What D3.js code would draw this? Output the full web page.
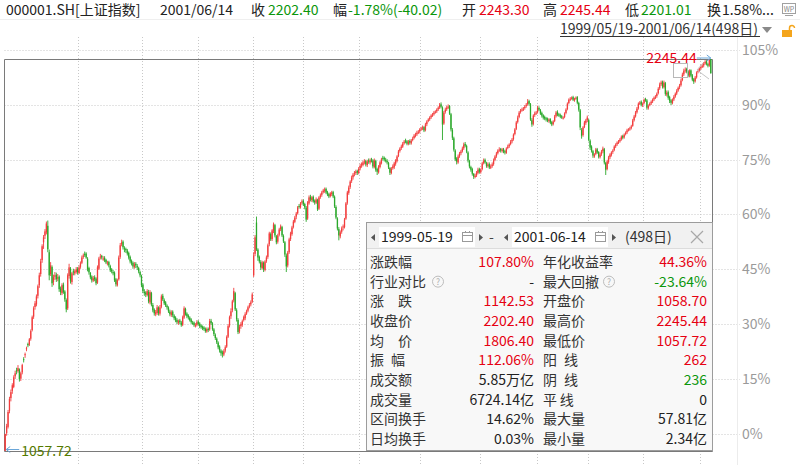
<!DOCTYPE html>
<html>
<head>
<meta charset="utf-8">
<script src="https://cdn.jsdelivr.net/npm/d3@7"></script>
<style>
body { margin: 0; background: #fff; }
text { font-family: "Noto Sans CJK SC", "Noto Sans", sans-serif; }
</style>
</head>
<body>
<div id="chart"></div>
<script>
// daily candles 1999/05/19 - 2001/06/14 (498 days)
const opens = [
1058.70,1112,1131,1180,1218,1240,1252,1284,1302,1300,
1305,1277,1296,1336,1348,1366,1382,1380,1398,1424,
1465,1494,1502,1528,1560,1594,1636,1690,1710,1720,
1740,1660,1594,1615,1570,1586,1592,1580,1586,1550,
1536,1562,1541,1515,1490,1588,1610,1570,1602,1596,
1600,1610,1597,1616,1628,1646,1655,1656,1640,1612,
1597,1586,1574,1584,1580,1568,1610,1646,1649,1640,
1643,1637,1626,1630,1618,1608,1600,1598,1578,1560,
1578,1646,1684,1692,1672,1670,1665,1658,1646,1634,
1628,1615,1625,1618,1612,1600,1588,1562,1540,1538,
1530,1540,1508,1536,1500,1486,1472,1476,1492,1474,
1495,1528,1515,1508,1498,1492,1480,1470,1480,1468,
1462,1455,1446,1453,1447,1440,1462,1488,1474,1468,
1462,1456,1446,1447,1438,1440,1450,1444,1438,1434,
1432,1428,1420,1428,1426,1452,1444,1426,1410,1398,
1386,1374,1362,1356,1350,1362,1374,1404,1438,1466,
1484,1514,1536,1484,1455,1420,1436,1440,1455,1460,
1474,1483,1495,1502,1510,1590,1655,1750,1668,1646,
1630,1612,1628,1606,1634,1646,1684,1715,1700,1724,
1742,1708,1692,1713,1730,1736,1709,1690,1650,1620,
1660,1700,1715,1737,1752,1768,1778,1800,1796,1810,
1816,1806,1795,1762,1808,1828,1818,1828,1816,1810,
1818,1792,1828,1834,1842,1846,1852,1842,1836,1830,
1836,1842,1828,1797,1762,1730,1708,1722,1735,1736,
1762,1810,1840,1858,1876,1887,1898,1900,1906,1900,
1914,1924,1924,1934,1936,1924,1938,1932,1941,1938,
1918,1936,1912,1902,1918,1930,1946,1946,1940,1937,
1930,1915,1900,1915,1917,1928,1936,1952,1967,1976,
1980,1990,1998,1996,1988,1997,1990,2000,2006,2015,
2017,2024,2026,2033,2036,2039,2030,2048,2058,2063,
2069,2075,2078,2084,2087,2093,2099,2108,2098,2050,
2085,2093,2100,2103,2078,2030,2005,1968,1944,1932,
1951,1960,1966,1975,1988,1982,1962,1936,1918,1912,
1897,1888,1893,1900,1912,1903,1912,1930,1940,1930,
1921,1927,1916,1921,1927,1940,1951,1960,1970,1973,
1967,1972,1966,1961,1976,1981,1988,1996,2003,2018,
2034,2055,2070,2085,2091,2094,2097,2103,2109,2118,
2108,2060,2049,2076,2082,2085,2097,2090,2082,2075,
2070,2066,2064,2057,2063,2054,2048,2058,2072,2085,
2078,2075,2072,2066,2070,2082,2094,2112,2124,2127,
2130,2120,2126,2130,2112,2090,2030,2015,2040,2052,
2060,2060,1998,1980,1966,1950,1958,1972,1964,1948,
1958,1966,1972,1930,1912,1934,1948,1955,1964,1970,
1981,1987,1993,1996,2002,2012,2008,2018,2023,2030,
2033,2036,2043,2060,2072,2084,2096,2111,2116,2105,
2112,2124,2120,2096,2106,2111,2117,2123,2130,2133,
2142,2157,2169,2176,2160,2172,2138,2145,2130,2120,
2112,2123,2132,2141,2150,2160,2166,2182,2199,2211,
2215,2208,2196,2211,2196,2184,2178,2190,2206,2211,
2217,2223,2226,2232,2239,2230,2226,2243.30
];
const highs = [
1110,1140,1182,1222,1244,1263,1287,1301,1310,1318,
1308,1298,1322,1342,1356,1374,1386,1400,1426,1468,
1496,1512,1532,1562,1598,1640,1684,1712,1730,1753,
1756,1668,1630,1620,1592,1600,1598,1594,1590,1556,
1566,1568,1545,1520,1596,1625,1615,1600,1610,1608,
1615,1615,1620,1632,1650,1656,1662,1660,1645,1616,
1600,1590,1588,1590,1584,1620,1646,1655,1652,1648,
1648,1640,1634,1634,1622,1612,1606,1602,1582,1580,
1650,1688,1698,1696,1678,1674,1670,1662,1650,1638,
1632,1630,1630,1624,1616,1604,1592,1566,1548,1542,
1548,1546,1545,1540,1506,1490,1485,1500,1496,1500,
1532,1534,1520,1512,1502,1496,1486,1484,1484,1472,
1466,1460,1456,1458,1452,1468,1496,1492,1478,1472,
1466,1460,1452,1450,1445,1454,1454,1448,1442,1438,
1436,1432,1432,1432,1458,1458,1448,1430,1414,1402,
1390,1378,1366,1362,1366,1378,1408,1442,1468,1490,
1516,1552,1540,1490,1460,1440,1448,1456,1468,1478,
1486,1498,1506,1514,1538,1660,1712,1768,1672,1650,
1636,1634,1632,1636,1650,1686,1722,1720,1730,1750,
1746,1712,1716,1734,1744,1740,1714,1694,1656,1664,
1704,1722,1740,1758,1770,1782,1800,1806,1812,1820,
1820,1810,1800,1815,1832,1834,1830,1832,1820,1826,
1822,1830,1838,1846,1852,1856,1856,1846,1840,1842,
1846,1846,1832,1802,1766,1736,1726,1738,1744,1764,
1812,1846,1862,1878,1892,1900,1906,1910,1910,1918,
1928,1932,1938,1942,1940,1940,1944,1944,1946,1942,
1944,1940,1916,1924,1936,1946,1952,1950,1946,1942,
1934,1918,1918,1926,1934,1942,1954,1970,1978,1986,
1994,2000,2004,2000,2000,2002,2003,2010,2018,2022,
2028,2030,2036,2040,2044,2042,2052,2060,2066,2072,
2078,2082,2088,2090,2096,2102,2112,2114,2102,2088,
2098,2104,2108,2106,2082,2036,2010,1972,1948,1956,
1964,1970,1980,1992,1994,1986,1966,1940,1922,1916,
1900,1898,1906,1916,1916,1914,1934,1944,1944,1934,
1932,1932,1926,1932,1944,1954,1964,1972,1978,1976,
1976,1976,1970,1978,1986,1990,2000,2006,2020,2036,
2058,2074,2088,2094,2098,2100,2106,2112,2124,2122,
2112,2066,2078,2086,2088,2104,2102,2094,2086,2078,
2074,2070,2068,2066,2066,2058,2060,2076,2088,2090,
2082,2080,2076,2072,2084,2096,2114,2126,2130,2132,
2134,2128,2132,2133,2116,2094,2036,2042,2058,2064,
2074,2064,2002,1984,1970,1960,1976,1976,1966,1962,
1970,1980,1976,1934,1940,1952,1960,1966,1972,1984,
1990,1996,2000,2006,2014,2016,2020,2026,2034,2036,
2040,2046,2064,2076,2088,2100,2114,2118,2120,2114,
2126,2128,2124,2108,2114,2120,2126,2132,2136,2144,
2160,2174,2180,2180,2180,2176,2150,2150,2134,2124,
2126,2136,2144,2154,2162,2170,2186,2204,2216,2220,
2219,2212,2214,2214,2200,2188,2194,2208,2215,2220,
2228,2230,2236,2242,2242,2234,2244,2245.44
];
const lows = [
1057.72,1104,1126,1172,1208,1231,1248,1276,1290,1295,
1268,1270,1290,1326,1340,1360,1372,1376,1392,1420,
1458,1486,1496,1520,1552,1586,1628,1670,1700,1714,
1660,1575,1588,1555,1560,1576,1570,1572,1540,1530,
1530,1534,1510,1478,1485,1580,1565,1562,1590,1590,
1595,1592,1594,1610,1624,1640,1646,1640,1602,1592,
1578,1568,1570,1572,1560,1564,1606,1638,1638,1634,
1630,1624,1620,1614,1600,1596,1590,1570,1556,1556,
1574,1640,1678,1668,1660,1658,1650,1638,1626,1620,
1610,1610,1612,1606,1596,1584,1554,1536,1528,1524,
1526,1505,1502,1496,1478,1468,1466,1470,1468,1468,
1490,1512,1500,1494,1486,1476,1466,1464,1463,1454,
1448,1442,1440,1442,1434,1436,1458,1468,1460,1456,
1450,1443,1440,1434,1432,1435,1438,1430,1428,1424,
1422,1416,1416,1418,1422,1440,1422,1406,1394,1382,
1366,1356,1346,1341,1345,1356,1370,1400,1432,1458,
1478,1508,1482,1450,1412,1414,1428,1434,1450,1454,
1470,1478,1490,1496,1506,1585,1648,1664,1634,1626,
1606,1608,1600,1602,1628,1640,1678,1694,1694,1718,
1705,1684,1686,1708,1724,1706,1688,1646,1600,1614,
1655,1694,1710,1732,1748,1760,1774,1792,1792,1804,
1800,1790,1752,1758,1804,1814,1812,1810,1804,1806,
1785,1788,1822,1828,1838,1840,1836,1830,1824,1826,
1830,1824,1794,1760,1726,1696,1702,1716,1726,1732,
1758,1804,1834,1852,1870,1880,1890,1894,1894,1896,
1908,1916,1920,1926,1920,1918,1928,1926,1932,1914,
1914,1904,1894,1898,1914,1926,1938,1935,1932,1926,
1912,1894,1896,1910,1912,1922,1932,1948,1962,1970,
1976,1986,1990,1984,1984,1986,1986,1996,2002,2008,
2012,2018,2020,2028,2030,2024,2026,2042,2054,2058,
2064,2070,2074,2080,2082,2088,2094,2096,2000,2046,
2080,2088,2094,2076,2026,2000,1965,1936,1926,1928,
1946,1954,1962,1970,1978,1960,1932,1914,1904,1892,
1882,1884,1888,1896,1898,1898,1908,1926,1928,1916,
1916,1912,1912,1916,1922,1936,1946,1956,1964,1962,
1962,1960,1956,1958,1972,1976,1984,1990,1998,2014,
2030,2050,2066,2080,2086,2088,2092,2098,2104,2104,
2058,2040,2044,2070,2076,2080,2088,2076,2068,2062,
2060,2056,2054,2052,2048,2042,2044,2054,2068,2072,
2070,2066,2064,2062,2066,2078,2090,2108,2118,2122,
2118,2116,2122,2108,2086,2030,2004,2010,2036,2046,
2054,1996,1970,1962,1946,1946,1954,1958,1944,1944,
1952,1960,1926,1894,1908,1928,1942,1950,1958,1966,
1976,1982,1988,1992,1998,2002,2004,2014,2018,2026,
2028,2032,2040,2056,2068,2080,2092,2106,2102,2100,
2108,2116,2092,2092,2102,2106,2112,2118,2124,2128,
2138,2152,2164,2156,2156,2134,2132,2122,2112,2106,
2108,2118,2128,2136,2146,2154,2162,2178,2194,2204,
2202,2190,2190,2190,2178,2170,2174,2186,2202,2206,
2212,2218,2220,2228,2226,2220,2222,2201.01
];
const closes = [
1109,1133,1176,1215,1236,1257,1281,1293,1299,1309,
1275,1293,1318,1333,1351,1369,1378,1396,1421,1463,
1490,1505,1526,1557,1590,1632,1678,1705,1723,1747,
1669,1590,1620,1566,1584,1590,1578,1584,1548,1539,
1560,1539,1517,1487,1590,1614,1572,1596,1599,1602,
1608,1599,1614,1626,1644,1650,1653,1644,1608,1599,
1584,1575,1581,1578,1566,1614,1641,1647,1644,1641,
1635,1629,1629,1620,1605,1602,1596,1575,1563,1575,
1644,1681,1690,1675,1669,1666,1656,1644,1632,1626,
1617,1623,1620,1614,1602,1590,1560,1542,1536,1532,
1542,1511,1539,1502,1484,1475,1478,1493,1475,1493,
1526,1517,1505,1499,1493,1481,1472,1478,1469,1460,
1454,1448,1451,1448,1439,1463,1490,1472,1466,1463,
1454,1448,1445,1439,1439,1448,1442,1436,1433,1430,
1427,1421,1427,1424,1451,1445,1427,1412,1400,1387,
1372,1363,1354,1351,1360,1372,1403,1436,1463,1481,
1511,1542,1487,1457,1418,1433,1442,1451,1463,1472,
1481,1493,1499,1508,1532,1650,1705,1669,1644,1632,
1614,1629,1608,1632,1644,1681,1717,1699,1726,1744,
1711,1690,1711,1729,1738,1711,1693,1653,1617,1659,
1699,1717,1735,1753,1765,1777,1796,1799,1808,1814,
1805,1796,1759,1811,1826,1820,1826,1814,1811,1820,
1790,1826,1832,1841,1847,1850,1841,1835,1829,1838,
1841,1829,1799,1765,1732,1711,1720,1732,1738,1759,
1808,1841,1856,1874,1886,1895,1901,1904,1901,1913,
1922,1926,1932,1935,1926,1935,1935,1938,1938,1920,
1938,1910,1904,1920,1932,1941,1944,1941,1938,1932,
1917,1901,1913,1920,1929,1938,1950,1965,1974,1980,
1989,1995,1995,1989,1995,1992,1998,2004,2013,2016,
2022,2025,2032,2035,2038,2029,2047,2056,2062,2068,
2074,2077,2083,2086,2092,2098,2107,2101,2047,2083,
2092,2098,2101,2080,2032,2007,1971,1941,1935,1950,
1959,1965,1974,1986,1983,1965,1938,1920,1910,1898,
1889,1892,1901,1910,1904,1910,1929,1938,1932,1922,
1926,1917,1920,1926,1938,1950,1959,1968,1971,1968,
1971,1965,1962,1974,1980,1986,1995,2001,2016,2032,
2053,2068,2083,2089,2092,2095,2101,2107,2116,2110,
2062,2047,2074,2080,2083,2098,2092,2080,2074,2068,
2065,2062,2059,2062,2053,2047,2056,2071,2083,2077,
2074,2071,2068,2068,2080,2092,2110,2122,2125,2128,
2122,2125,2128,2113,2092,2038,2013,2038,2053,2059,
2068,2001,1977,1968,1953,1956,1971,1962,1950,1956,
1965,1974,1932,1910,1935,1947,1956,1962,1968,1980,
1986,1992,1995,2001,2010,2007,2016,2022,2029,2032,
2035,2041,2059,2071,2083,2095,2110,2113,2107,2110,
2122,2122,2098,2104,2110,2116,2122,2128,2131,2140,
2155,2168,2174,2162,2174,2140,2143,2128,2119,2113,
2122,2131,2140,2149,2158,2165,2180,2198,2210,2213,
2207,2195,2210,2195,2183,2177,2189,2204,2210,2216,
2222,2225,2231,2237,2231,2225,2242.42,2202.40
];

// day index where the dotted vertical grid lines sit
const gridDays = [52, 97, 136, 175, 210, 250, 293, 335, 375, 411, 450, 490];
// right axis, percent above the first close
const pctTicks = [0, 15, 30, 45, 60, 75, 90, 105];

// top quote bar
const headerTexts = ['000001.SH[上证指数]', '2001/06/14', '收', '2202.40', '幅', '-1.78%(-40.02)',
	'开', '2243.30', '高', '2245.44', '低', '2201.01', '换', '1.58%...'];
const headerTones = ['n', 'n', 'n', 'dn', 'n', 'dn', 'n', 'up', 'n', 'up', 'n', 'dn', 'n', 'n'];
const rangeText = '1999/05/19-2001/06/14(498日)';

// statistics panel
const panelFrom = '1999-05-19';
const panelTo = '2001-06-14';
const panelDays = '(498日)';
const statLabels = ['涨跌幅', '行业对比', '涨\u3000跌', '收盘价', '均\u3000价', '振\u2002幅', '成交额', '成交量', '区间换手', '日均换手'];
const statValues = ['107.80%', '-', '1142.53', '2202.40', '1806.40', '112.06%', '5.85万亿', '6724.14亿', '14.62%', '0.03%'];
const statTones = ['up', 'n', 'up', 'up', 'up', 'up', 'n', 'n', 'n', 'n'];
const statLabels2 = ['年化收益率', '最大回撤', '开盘价', '最高价', '最低价', '阳\u2002线', '阴\u2002线', '平\u2009线', '最大量', '最小量'];
const statValues2 = ['44.36%', '-23.64%', '1058.70', '2245.44', '1057.72', '262', '236', '0', '57.81亿', '2.34亿'];
const statTones2 = ['up', 'dn', 'up', 'up', 'up', 'up', 'dn', 'n', 'n', 'n'];

// ---------------------------------------------------------------
const W = 800, H = 465;
const tone = {up: '#e60012', dn: '#0b960b', n: '#222'};
const candleUp = '#f23c3c', candleDn = '#2aa82a';

let svg = d3.select('#chart').append('svg')
	.attr('width', W)
	.attr('height', H);

// plot box
let box = {left: 4.5, right: 712, top: 59, bottom: 451};

let x = d3.scaleLinear()
	.domain([-0.5, closes.length - 0.5])
	.range([box.left, box.right - 0.5]);
let y = d3.scaleLinear()
	.domain([d3.min(lows), d3.max(highs)])
	.range([box.bottom, box.top]);
let base = closes[0];
let pctY = p => y(base * (1 + p / 100));

// grid
let grid = svg.append('g').attr('class', 'grid');
grid.selectAll('.hgrid').data(pctTicks).enter().append('line')
	.attr('class', 'hgrid')
	.attr('x1', box.left).attr('x2', 740)
	.attr('y1', d => Math.round(pctY(d)) + 0.5)
	.attr('y2', d => Math.round(pctY(d)) + 0.5)
	.attr('stroke', '#c8c8c8')
	.attr('stroke-dasharray', '1,2');
grid.selectAll('.vgrid').data(gridDays).enter().append('line')
	.attr('class', 'vgrid')
	.attr('x1', d => Math.round(x(d - 0.5)) + 0.5)
	.attr('x2', d => Math.round(x(d - 0.5)) + 0.5)
	.attr('y1', 37).attr('y2', H)
	.attr('stroke', '#c8c8c8')
	.attr('stroke-dasharray', '1,2');
svg.append('line')
	.attr('x1', 737.5).attr('x2', 737.5).attr('y1', 37).attr('y2', H)
	.attr('stroke', '#ececec');

// box border
svg.append('path')
	.attr('d', `M${box.left},${box.top + 0.5}H${box.right + 0.5}V${box.bottom + 0.5}H${box.left}Z`)
	.attr('fill', 'none')
	.attr('stroke', '#7a7a7a');

// candles
let days = d3.range(closes.length);
let isUp = i => closes[i] >= opens[i];
let candles = svg.append('g').attr('class', 'candles')
	.selectAll('.candle').data(days).enter().append('g')
	.attr('class', 'candle');
candles.append('line')
	.attr('x1', i => x(i)).attr('x2', i => x(i))
	.attr('y1', i => y(highs[i])).attr('y2', i => y(lows[i]))
	.attr('stroke', i => isUp(i) ? candleUp : candleDn)
	.attr('stroke-width', 0.9);
candles.append('rect')
	.attr('x', i => x(i) - 0.65)
	.attr('width', 1.3)
	.attr('y', i => y(Math.max(opens[i], closes[i])))
	.attr('height', i => Math.max(1, Math.abs(y(opens[i]) - y(closes[i]))))
	.attr('fill', i => isUp(i) ? candleUp : candleDn);

// right axis labels
let yAxis = d3.axisRight(d3.scaleLinear().domain([0, 105]).range([pctY(0), pctY(105)]))
	.tickValues(pctTicks)
	.tickSize(0)
	.tickPadding(0)
	.tickFormat(d => d + '%');
let axisG = svg.append('g')
	.attr('transform', 'translate(742,0)')
	.call(yAxis);
axisG.select('.domain').remove();
axisG.selectAll('text')
	.attr('fill', '#9a9a9a')
	.style('font-size', '14px')
	.style('font-family', '"Noto Sans CJK SC", "Noto Sans", sans-serif');

// high / low markers
let iHigh = d3.maxIndex(highs), iLow = d3.minIndex(lows);
let arrowBlue = '#6aa6d8';
let hy = y(highs[iHigh]) - 1;
svg.append('path')
	.attr('d', `M${x(iHigh) - 14},${hy}H${x(iHigh)}m-4,-3l4,3l-4,3`)
	.attr('fill', 'none').attr('stroke', arrowBlue);
svg.append('text')
	.attr('x', x(iHigh) - 14).attr('y', hy + 5)
	.attr('text-anchor', 'end')
	.attr('fill', '#e60012')
	.style('font-size', '14px')
	.text(d3.format('.2f')(highs[iHigh]));
let ly = y(lows[iLow]) - 1.5;
svg.append('path')
	.attr('d', `M${x(iLow) + 14},${ly}H${x(iLow) + 1}m4,-3l-4,3l4,3`)
	.attr('fill', 'none').attr('stroke', arrowBlue);
svg.append('text')
	.attr('x', x(iLow) + 16).attr('y', ly + 6)
	.attr('fill', '#557a00')
	.style('font-size', '14px')
	.text(d3.format('.2f')(lows[iLow]));

// small zoom marker near the last candles
svg.append('rect')
	.attr('x', 673.5).attr('y', 63.5).attr('width', 14).attr('height', 14)
	.attr('fill', 'none').attr('stroke', '#b8b8b8');
svg.append('path')
	.attr('d', 'M697,70L703,63M697,70L709,79')
	.attr('fill', 'none').attr('stroke', '#c4c4c4');

// header bar
const headerX = [6, 160, 251, 268, 333, 348, 462, 479, 543, 560, 625, 641, 707, 722];
svg.append('g').selectAll('text').data(headerTexts).enter().append('text')
	.attr('x', (d, i) => headerX[i])
	.attr('y', 15)
	.attr('fill', (d, i) => tone[headerTones[i]])
	.style('font-size', '14px')
	.text(d => d);
svg.append('line')
	.attr('x1', 0).attr('x2', W).attr('y1', 19.5).attr('y2', 19.5)
	.attr('stroke', '#efefef');
// WP icon
svg.append('rect')
	.attr('x', 782.5).attr('y', 3.5).attr('width', 13).attr('height', 10)
	.attr('fill', '#fff').attr('stroke', '#a0a0a0');
svg.append('text')
	.attr('x', 789).attr('y', 11.5).attr('text-anchor', 'middle')
	.attr('fill', '#888').style('font-size', '7px').text('WP');
svg.append('line')
	.attr('x1', 785).attr('x2', 793).attr('y1', 15.5).attr('y2', 15.5)
	.attr('stroke', '#a0a0a0');

// range line
svg.append('text')
	.attr('x', 560).attr('y', 34)
	.attr('fill', '#333')
	.style('font-size', '14px')
	.text(rangeText);
svg.append('line')
	.attr('x1', 560).attr('x2', 760).attr('y1', 36.5).attr('y2', 36.5)
	.attr('stroke', '#333');
svg.append('path')
	.attr('d', 'M762,27H772L767,33Z')
	.attr('fill', '#8a8a8a');
svg.append('rect')
	.attr('x', 782).attr('y', 30).attr('width', 10).attr('height', 7)
	.attr('fill', '#f4a51c');
svg.append('path')
	.attr('d', 'M789.5,30V28a2.5,2.5 0 0 1 5,0')
	.attr('fill', 'none').attr('stroke', '#f4a51c').attr('stroke-width', 1.5);

// statistics panel
let panel = svg.append('g').attr('class', 'panel');
panel.append('rect')
	.attr('x', 366.5).attr('y', 222.5).attr('width', 346).attr('height', 228)
	.attr('fill', '#f8f8f8').attr('stroke', '#9c9c9c');
panel.append('rect')
	.attr('x', 367).attr('y', 223).attr('width', 345).attr('height', 25)
	.attr('fill', '#f1f1f1');
panel.append('line')
	.attr('x1', 367).attr('x2', 712).attr('y1', 248.5).attr('y2', 248.5)
	.attr('stroke', '#dcdcdc');

function dateBox(x0, label){
	panel.append('path')
		.attr('d', `M${x0 - 1},234l-4,3.5l4,3.5Z`)
		.attr('fill', '#555');
	panel.append('rect')
		.attr('x', x0 + 3).attr('y', 227).attr('width', 96).attr('height', 20)
		.attr('fill', '#fff');
	panel.append('text')
		.attr('x', x0 + 5).attr('y', 242)
		.attr('fill', '#222').style('font-size', '14px')
		.text(label);
	// calendar glyph
	let cx = x0 + 86;
	panel.append('rect')
		.attr('x', cx + 0.5).attr('y', 232.5).attr('width', 10).attr('height', 9)
		.attr('fill', 'none').attr('stroke', '#9a9a9a');
	panel.append('path')
		.attr('d', `M${cx + 0.5},235.5h10M${cx + 3.5},231v2M${cx + 7.5},231v2`)
		.attr('stroke', '#9a9a9a');
	panel.append('path')
		.attr('d', `M${x0 + 103},234l4,3.5l-4,3.5Z`)
		.attr('fill', '#555');
}
dateBox(376, panelFrom);
panel.append('text')
	.attr('x', 489).attr('y', 242)
	.attr('fill', '#444').style('font-size', '14px').text('-');
dateBox(509, panelTo);
panel.append('text')
	.attr('x', 625).attr('y', 242)
	.attr('fill', '#333').style('font-size', '14px').text(panelDays);
panel.append('path')
	.attr('d', 'M691,231L703,243M703,231L691,243')
	.attr('stroke', '#a8a8a8').attr('stroke-width', 1.2);

let rowY = k => 267 + k * 19.65;
let rows = panel.selectAll('.row').data(d3.range(statLabels.length)).enter().append('g')
	.attr('class', 'row');
rows.append('text')
	.attr('x', 370).attr('y', k => rowY(k))
	.attr('fill', '#333').style('font-size', '14px')
	.text(k => statLabels[k]);
rows.append('text')
	.attr('x', 534).attr('y', k => rowY(k))
	.attr('text-anchor', 'end')
	.attr('fill', k => tone[statTones[k]])
	.style('font-size', '14px')
	.text(k => statValues[k]);
rows.append('text')
	.attr('x', 543).attr('y', k => rowY(k))
	.attr('fill', '#333').style('font-size', '14px')
	.text(k => statLabels2[k]);
rows.append('text')
	.attr('x', 707).attr('y', k => rowY(k))
	.attr('text-anchor', 'end')
	.attr('fill', k => tone[statTones2[k]])
	.style('font-size', '14px')
	.text(k => statValues2[k]);

// help marks next to 行业对比 / 最大回撤
[438, 609].forEach(cx => {
	panel.append('circle')
		.attr('cx', cx).attr('cy', rowY(1) - 5).attr('r', 5.5)
		.attr('fill', 'none').attr('stroke', '#bdbdbd');
	panel.append('text')
		.attr('x', cx).attr('y', rowY(1) - 2)
		.attr('text-anchor', 'middle')
		.attr('fill', '#b0b0b0').style('font-size', '8.5px')
		.text('?');
});
</script>
</body>
</html>
